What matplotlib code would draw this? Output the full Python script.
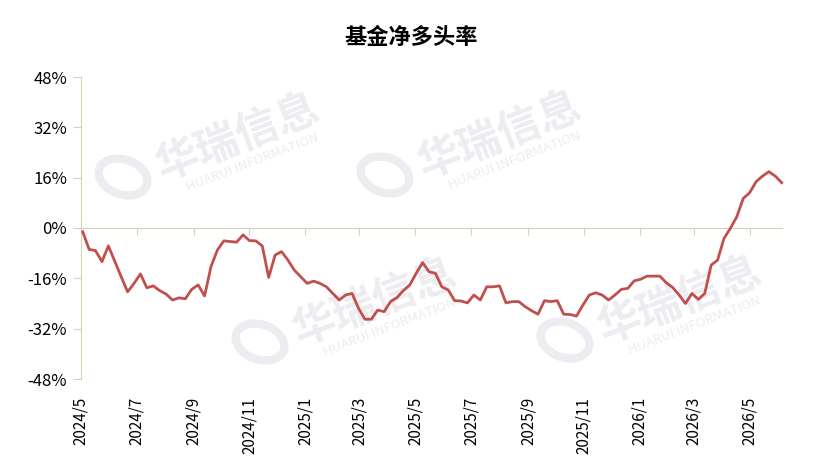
import numpy as np
import pandas as pd
import matplotlib
matplotlib.use('Agg')
import matplotlib.pyplot as plt
import matplotlib.dates as mdates
from matplotlib.ticker import FuncFormatter, MultipleLocator

plt.rcParams['font.family'] = ['Noto Sans CJK SC', 'DejaVu Sans']

# weekly net long ratio (%)
start_date = '2024-05-03'
net_long = [
    -1.2, -6.8, -7.2, -10.7, -5.7, -10.6, -15.5, -20.3, -17.6, -14.6,
    -19.0, -18.4, -19.9, -21.0, -22.9, -22.2, -22.5, -19.5, -18.1, -21.6,
    -12.3, -7.0, -4.1, -4.3, -4.5, -2.2, -4.0, -4.1, -5.7, -15.7,
    -8.6, -7.5, -10.2, -13.4, -15.5, -17.6, -16.9, -17.6, -18.7, -20.8,
    -22.9, -21.3, -20.8, -25.5, -29.0, -29.0, -26.1, -26.6, -23.4, -22.1,
    -19.9, -18.1, -14.4, -11.0, -13.9, -14.4, -18.7, -19.7, -23.1, -23.2,
    -23.8, -21.3, -22.9, -18.7, -18.7, -18.4, -23.8, -23.4, -23.4, -25.0,
    -26.3, -27.4, -23.1, -23.4, -23.1, -27.4, -27.5, -28.0, -24.5, -21.3,
    -20.6, -21.3, -22.9, -21.3, -19.5, -19.2, -16.8, -16.3, -15.3, -15.3,
    -15.3, -17.4, -18.9, -21.3, -24.0, -20.8, -22.7, -20.8, -11.8, -10.2,
    -3.3, -0.1, 3.6, 9.4, 11.2, 14.7, 16.5, 17.9, 16.5, 14.4,
]
dates = pd.date_range(start_date, periods=len(net_long), freq='7D')
title = '基金净多头率'
y_ticks = [-48, -32, -16, 0, 16, 32, 48]

axis_col = '#D8D0B0'
line_col = '#C0504D'

fig = plt.figure(figsize=(8.22, 4.75), dpi=100)
ax = fig.add_axes([80.9 / 822, 1 - 379 / 475, (781.7 - 80.9) / 822, (379 - 77) / 475])
ax.set_zorder(5)

# watermarks
wm_col = '#ECECF1'
for cx, cy in [(238, 137), (500, 135), (375, 302), (680, 300)]:
    fig.text(cx / 822, 1 - cy / 475, '华瑞信息', fontsize=31, fontweight='bold',
             color=wm_col, rotation=21, ha='center', va='center', zorder=0)
    fig.text((cx + 15) / 822, 1 - (cy + 25) / 475, 'HUARUI INFORMATION', fontsize=9.5,
             color=wm_col, rotation=21, ha='center', va='center', zorder=0)
    ring = matplotlib.patches.Ellipse(((cx - 115) / 822, 1 - (cy + 40) / 475),
                                      46 / 822, 38 / 475, angle=20, fill=False,
                                      lw=6, ec=wm_col, transform=fig.transFigure, zorder=0)
    fig.patches.append(ring)

ax.patch.set_alpha(0)
ax.plot(dates, net_long, color=line_col, lw=2.0, zorder=3, clip_on=False)

ax.set_ylim(-48, 48)
ax.set_yticks(y_ticks)
ax.yaxis.set_major_formatter(FuncFormatter(lambda v, p: f'{v:.0f}%'))
ax.set_xlim(pd.Timestamp('2024-05-01'), dates[-1])

for s in ['top', 'right']:
    ax.spines[s].set_visible(False)
ax.spines['left'].set_color(axis_col)
ax.spines['bottom'].set_color(axis_col)
ax.spines['bottom'].set_position(('data', 0))

loc = mdates.MonthLocator(bymonth=[1, 3, 5, 7, 9, 11])
ax.xaxis.set_major_locator(loc)
ax.tick_params(axis='x', direction='out', length=5, color=axis_col, labelbottom=False)
ax.tick_params(axis='y', direction='out', length=6, color=axis_col, labelsize=12, pad=4)

sec = ax.secondary_xaxis('bottom')
sec.xaxis.set_major_locator(mdates.MonthLocator(bymonth=[1, 3, 5, 7, 9, 11]))
sec.xaxis.set_major_formatter(FuncFormatter(
    lambda v, p: f'{mdates.num2date(v).year}/{mdates.num2date(v).month}'))
sec.spines['bottom'].set_visible(False)
sec.tick_params(axis='x', length=0, pad=13, labelsize=11, labelrotation=90)

fig.text(411 / 822, 1 - 37 / 475, title, fontsize=16, fontweight='bold',
         ha='center', va='center')

fig.savefig('out.png', dpi=100)
